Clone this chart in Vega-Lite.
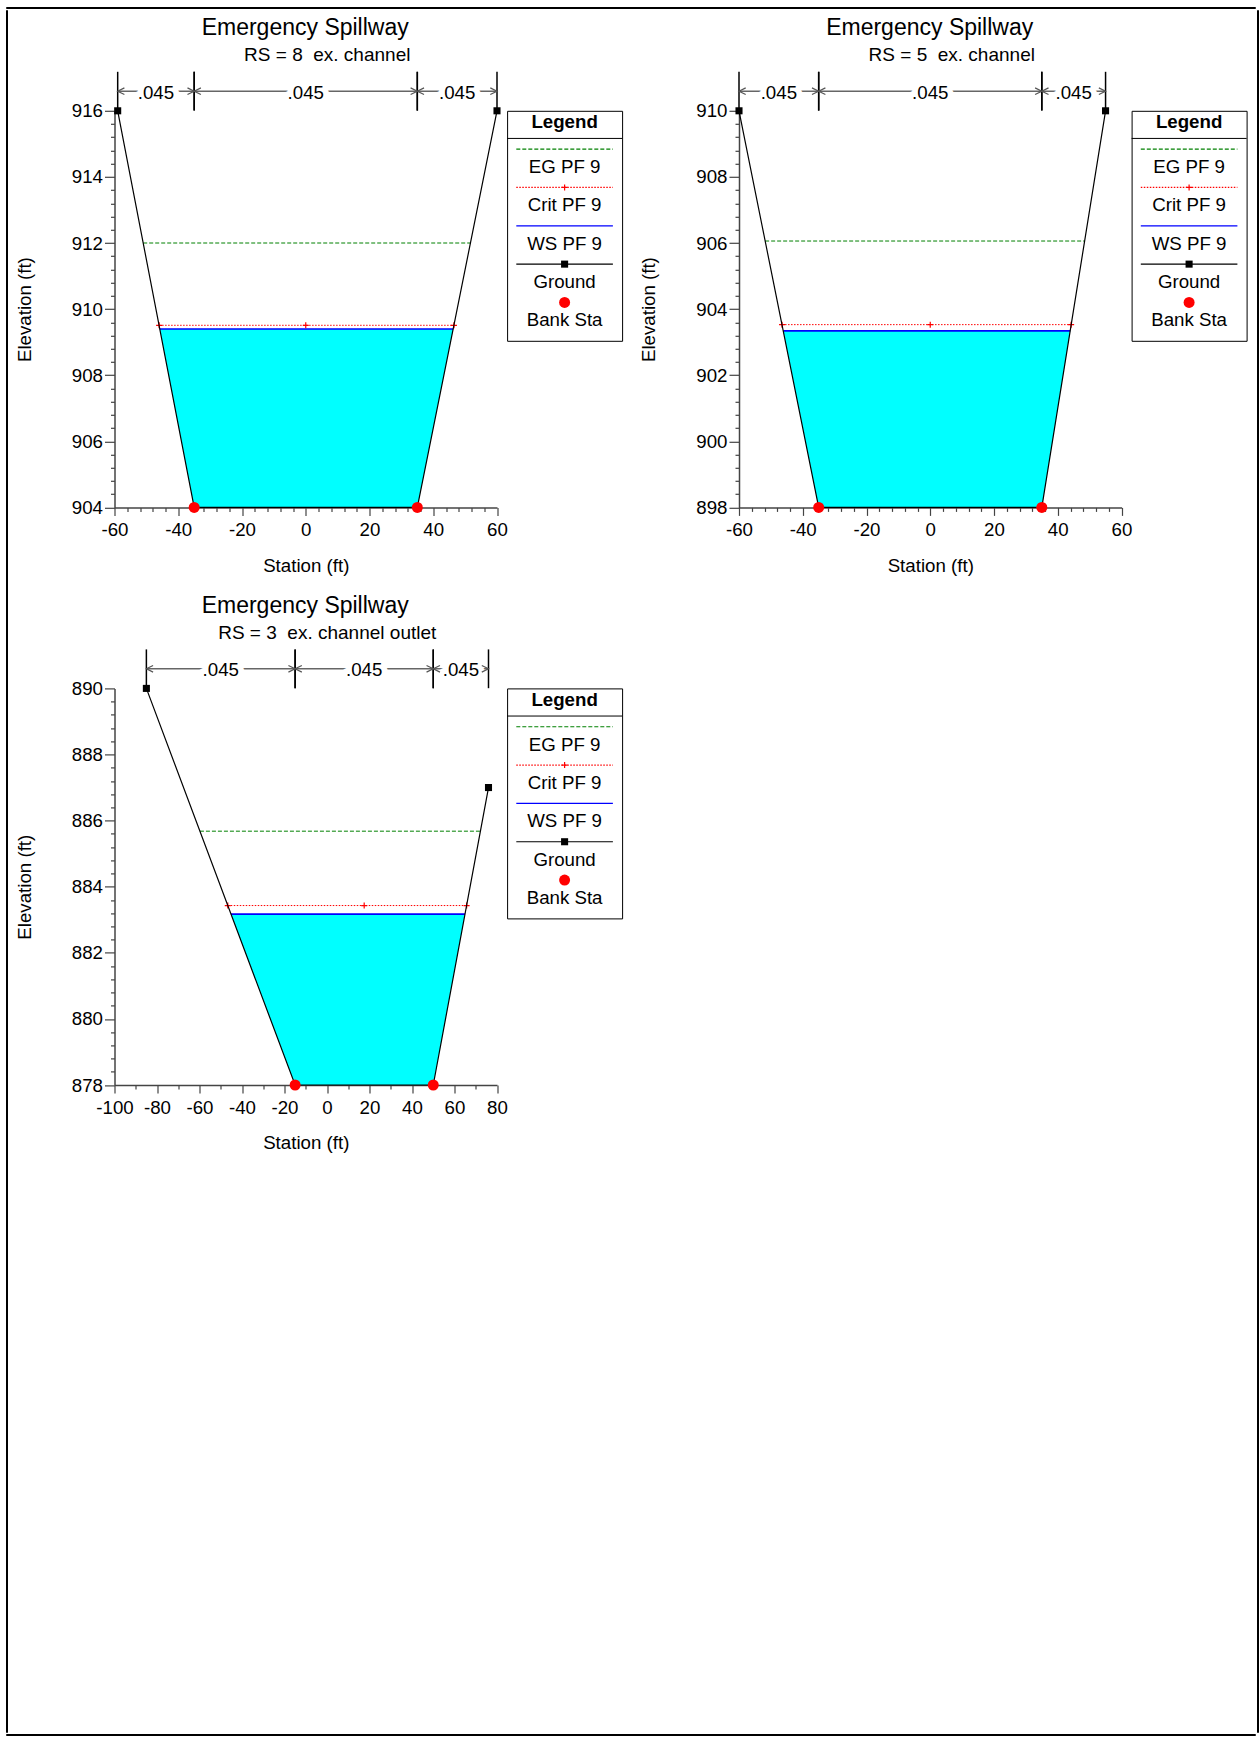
{
  "$schema": "https://vega.github.io/schema/vega-lite/v6.json",
  "usermeta": {"embedOptions": {"actions": false}},
  "padding": {"left": 5, "top": 6, "right": 1, "bottom": 0},
  "background": "white",
  "config": {
    "font": "Liberation Sans",
    "view": {"stroke": null},
    "axis": {"labelFont": "Liberation Sans", "titleFont": "Liberation Sans", "labelFontSize": 18.7, "titleFontSize": 18.7, "titleFontWeight": "normal", "labelColor": "#000", "titleColor": "#000", "domainColor": "#444", "tickColor": "#444", "grid": false, "labelFlush": false, "labelOverlap": false, "labelBound": false, "domainWidth": 1.5, "tickWidth": 1.2},
    "title": {"font": "Liberation Sans", "fontWeight": "normal", "color": "#000"},
    "text": {"font": "Liberation Sans", "fontSize": 18.7, "color": "#000"}
  },
  "datasets": {
    "ground": [
      {"p": 1, "sta": -59, "elev": 916}, {"p": 1, "sta": -35, "elev": 904}, {"p": 1, "sta": 35, "elev": 904}, {"p": 1, "sta": 60, "elev": 916},
      {"p": 2, "sta": -60, "elev": 910}, {"p": 2, "sta": -35, "elev": 898}, {"p": 2, "sta": 35, "elev": 898}, {"p": 2, "sta": 55, "elev": 910},
      {"p": 3, "sta": -85, "elev": 890}, {"p": 3, "sta": -15, "elev": 878}, {"p": 3, "sta": 50, "elev": 878}, {"p": 3, "sta": 76, "elev": 887}
    ],
    "water": [
      {"p": 1, "sta": -45.8, "elev": 909.4, "ws": 909.4}, {"p": 1, "sta": -35, "elev": 904, "ws": 909.4}, {"p": 1, "sta": 35, "elev": 904, "ws": 909.4}, {"p": 1, "sta": 46.25, "elev": 909.4, "ws": 909.4},
      {"p": 2, "sta": -46.1, "elev": 903.34, "ws": 903.34}, {"p": 2, "sta": -35, "elev": 898, "ws": 903.34}, {"p": 2, "sta": 35, "elev": 898, "ws": 903.34}, {"p": 2, "sta": 43.9, "elev": 903.34, "ws": 903.34},
      {"p": 3, "sta": -45.2, "elev": 883.17, "ws": 883.17}, {"p": 3, "sta": -15, "elev": 878, "ws": 883.17}, {"p": 3, "sta": 50, "elev": 878, "ws": 883.17}, {"p": 3, "sta": 64.9, "elev": 883.17, "ws": 883.17}
    ],
    "ws": [
      {"p": 1, "sta": -45.8, "sta2": 46.25, "elev": 909.4},
      {"p": 2, "sta": -46.1, "sta2": 43.9, "elev": 903.34},
      {"p": 3, "sta": -45.2, "sta2": 64.9, "elev": 883.17}
    ],
    "crit": [
      {"p": 1, "sta": -46.0, "sta2": 46.5, "elev": 909.51},
      {"p": 2, "sta": -46.5, "sta2": 44.2, "elev": 903.53},
      {"p": 3, "sta": -46.7, "sta2": 65.7, "elev": 883.43}
    ],
    "critpts": [
      {"p": 1, "sta": -46.0, "elev": 909.51}, {"p": 1, "sta": 0, "elev": 909.51}, {"p": 1, "sta": 46.5, "elev": 909.51},
      {"p": 2, "sta": -46.5, "elev": 903.53}, {"p": 2, "sta": 0, "elev": 903.53}, {"p": 2, "sta": 44.2, "elev": 903.53},
      {"p": 3, "sta": -46.7, "elev": 883.43}, {"p": 3, "sta": 17.5, "elev": 883.43}, {"p": 3, "sta": 65.7, "elev": 883.43}
    ],
    "eg": [
      {"p": 1, "sta": -51.0, "sta2": 51.67, "elev": 912.0},
      {"p": 2, "sta": -51.8, "sta2": 48.4, "elev": 906.06},
      {"p": 3, "sta": -59.8, "sta2": 72.2, "elev": 885.68}
    ],
    "banks": [
      {"p": 1, "sta": -35, "elev": 904}, {"p": 1, "sta": 35, "elev": 904},
      {"p": 2, "sta": -35, "elev": 898}, {"p": 2, "sta": 35, "elev": 898},
      {"p": 3, "sta": -15, "elev": 878}, {"p": 3, "sta": 50, "elev": 878}
    ],
    "nvals": [
      {"p": 1, "seg": 1, "sta": -59, "sta2": -35, "n": ".045"}, {"p": 1, "seg": 2, "sta": -35, "sta2": 35, "n": ".045"}, {"p": 1, "seg": 3, "sta": 35, "sta2": 60, "n": ".045"},
      {"p": 2, "seg": 1, "sta": -60, "sta2": -35, "n": ".045"}, {"p": 2, "seg": 2, "sta": -35, "sta2": 35, "n": ".045"}, {"p": 2, "seg": 3, "sta": 35, "sta2": 55, "n": ".045"},
      {"p": 3, "seg": 1, "sta": -85, "sta2": -15, "n": ".045"}, {"p": 3, "seg": 2, "sta": -15, "sta2": 50, "n": ".045"}, {"p": 3, "seg": 3, "sta": 50, "sta2": 76, "n": ".045"}
    ],
    "legend": [{"item": "EG PF 9"}, {"item": "Crit PF 9"}, {"item": "WS PF 9"}, {"item": "Ground"}, {"item": "Bank Sta"}]
  },
  "spacing": 0,
  "vconcat": [
    {"width": 1249, "height": 1, "data": {"values": []}, "mark": "rect", "view": {"stroke": "#000", "strokeWidth": 1}},
    {
      "spacing": 6.5,
      "hconcat": [
        {"width": 1, "height": 1722, "data": {"values": []}, "mark": "rect", "view": {"stroke": "#000", "strokeWidth": 1}},
        {
          "spacing": 7.5,
          "hconcat": [
            {
              "spacing": 5.8,
              "vconcat": [
                {"width": 1, "height": 1, "data": {"values": []}, "mark": "rect"},
                {
                  "spacing": 19.6,
                  "vconcat": [
                    {
                      "spacing": 15.5,
                      "hconcat": [
                        {
                          "title": {"text": "Emergency Spillway", "fontSize": 23, "anchor": "middle", "dx": -14, "offset": 6.1},
                          "bounds": "flush",
                          "spacing": 0,
                          "vconcat": [
                            {
                              "width": 382.5, "height": 38.8,
                              "title": {"text": "RS = 8\u00a0 ex. channel", "fontSize": 19, "frame": "group", "anchor": "middle", "dx": 21.5, "offset": 5.6},
                              "data": {"name": "nvals"},
                              "transform": [{"filter": "datum.p === 1"}],
                              "encoding": {"x": {"field": "sta", "type": "quantitative", "scale": {"domain": [-60, 60], "nice": false, "zero": false}, "axis": null}},
                              "layer": [
                                {"mark": {"type": "rule", "color": "#666", "strokeWidth": 1.5}, "encoding": {"x2": {"field": "sta2"}}},
                                {"transform": [{"fold": ["sta", "sta2"], "as": ["end", "sta"]}, {"aggregate": [{"op": "mean", "field": "sta", "as": "sta"}], "groupby": ["seg", "n"]}], "mark": {"type": "text", "fontSize": 18.7, "stroke": "#fff", "strokeWidth": 12, "fill": "#fff", "strokeJoin": "round", "dy": 1.5}, "encoding": {"text": {"field": "n"}}},
                                {"transform": [{"fold": ["sta", "sta2"], "as": ["end", "sta"]}], "mark": {"type": "rule", "color": "#000", "strokeWidth": 1.5}},
                                {"mark": {"type": "point", "shape": "M2,-1L0,0L2,1", "filled": false, "stroke": "#555", "strokeWidth": 1.2, "size": 45, "opacity": 1}},
                                {"mark": {"type": "point", "shape": "M-2,-1L0,0L-2,1", "filled": false, "stroke": "#555", "strokeWidth": 1.2, "size": 45, "opacity": 1}, "encoding": {"x": {"field": "sta2", "type": "quantitative", "scale": {"domain": [-60, 60], "nice": false, "zero": false}, "axis": null}}},
                                {"transform": [{"fold": ["sta", "sta2"], "as": ["end", "sta"]}, {"aggregate": [{"op": "mean", "field": "sta", "as": "sta"}], "groupby": ["seg", "n"]}], "mark": {"type": "text", "fontSize": 18.7, "dy": 1.5}, "encoding": {"text": {"field": "n"}}}
                              ]
                            },
                            {
                              "bounds": "flush",
                              "spacing": 9.6,
                              "hconcat": [
                                {
                                  "width": 382.5, "height": 396.6,
                                  "encoding": {
                                    "x": {"field": "sta", "type": "quantitative", "scale": {"domain": [-60, 60], "nice": false, "zero": false},
                                      "axis": {"title": "Station (ft)", "values": [-60,-56,-52,-48,-44,-40,-36,-32,-28,-24,-20,-16,-12,-8,-4,0,4,8,12,16,20,24,28,32,36,40,44,48,52,56,60], "labelExpr": "datum.value % 20 === 0 ? '' + datum.value : ''", "tickSize": {"condition": {"test": "datum.value % 20 === 0", "value": 8}, "value": 4}, "labelPadding": 5, "titlePadding": 17}},
                                    "y": {"field": "elev", "type": "quantitative", "scale": {"domain": [904, 916], "nice": false, "zero": false},
                                      "axis": {"title": "Elevation (ft)", "values": [904,904.4,904.8,905.2,905.6,906,906.4,906.8,907.2,907.6,908,908.4,908.8,909.2,909.6,910,910.4,910.8,911.2,911.6,912,912.4,912.8,913.2,913.6,914,914.4,914.8,915.2,915.6,916], "labelExpr": "datum.value % 2 === 0 ? '' + datum.value : ''", "tickSize": {"condition": {"test": "datum.value % 2 === 0", "value": 10}, "value": 4}, "labelPadding": 2, "titlePadding": 37}}
                                  },
                                  "layer": [
                                    {"data": {"name": "water"}, "transform": [{"filter": "datum.p === 1"}], "mark": {"type": "area", "color": "#00ffff", "opacity": 1}, "encoding": {"y2": {"field": "ws"}}},
                                    {"data": {"name": "eg"}, "transform": [{"filter": "datum.p === 1"}], "mark": {"type": "rule", "color": "#008000", "strokeDash": [4, 2], "strokeWidth": 1}, "encoding": {"x2": {"field": "sta2"}}},
                                    {"data": {"name": "ws"}, "transform": [{"filter": "datum.p === 1"}], "mark": {"type": "rule", "color": "#0000ff", "strokeWidth": 1.6}, "encoding": {"x2": {"field": "sta2"}}},
                                    {"data": {"name": "crit"}, "transform": [{"filter": "datum.p === 1"}], "mark": {"type": "rule", "color": "#ff0000", "strokeDash": [1.5, 1.5], "strokeWidth": 1}, "encoding": {"x2": {"field": "sta2"}}},
                                    {"data": {"name": "critpts"}, "transform": [{"filter": "datum.p === 1"}], "mark": {"type": "point", "shape": "M-1,0H1M0,-1V1", "filled": false, "stroke": "#ff0000", "strokeWidth": 1.2, "size": 36, "opacity": 1}},
                                    {"data": {"name": "ground"}, "transform": [{"filter": "datum.p === 1"}], "mark": {"type": "line", "color": "#000", "strokeWidth": 1.2}},
                                    {"data": {"name": "ground"}, "transform": [{"filter": "datum.p === 1"}], "mark": {"type": "square", "color": "#000", "size": 50, "opacity": 1}},
                                    {"data": {"name": "banks"}, "transform": [{"filter": "datum.p === 1"}], "mark": {"type": "circle", "color": "#ff0000", "size": 121, "opacity": 1}}
                                  ]
                                },
                                {
                                  "width": 115, "height": 230,
                                  "view": {"stroke": "#000", "strokeWidth": 1},
                                  "title": {"text": "Legend", "fontWeight": "bold", "fontSize": 18.7, "frame": "group", "anchor": "middle", "offset": -21},
                                  "data": {"name": "legend"},
                                  "encoding": {"y": {"field": "item", "type": "nominal", "scale": {"type": "point", "domain": ["EG PF 9", "Crit PF 9", "WS PF 9", "Ground", "Bank Sta"], "padding": 1}, "axis": null}},
                                  "layer": [
                                    {"transform": [{"filter": "datum.item === 'EG PF 9'"}], "mark": {"type": "rule", "color": "#000", "strokeWidth": 1, "yOffset": -10.7}, "encoding": {"x": {"datum": 0, "type": "quantitative", "scale": {"domain": [0, 1]}, "axis": null}, "x2": {"datum": 1}}},
                                    {"transform": [{"filter": "datum.item !== 'Bank Sta'"}], "mark": {"type": "rule", "strokeWidth": 1.2}, "encoding": {"x": {"datum": 0.08, "type": "quantitative", "scale": {"domain": [0, 1]}, "axis": null}, "x2": {"datum": 0.92}, "color": {"field": "item", "type": "nominal", "scale": {"domain": ["EG PF 9", "Crit PF 9", "WS PF 9", "Ground"], "range": ["#008000", "#ff0000", "#0000ff", "#000000"]}, "legend": null}, "strokeDash": {"field": "item", "type": "nominal", "scale": {"domain": ["EG PF 9", "Crit PF 9", "WS PF 9", "Ground"], "range": [[4, 2], [1.5, 1.5], [1, 0], [1, 0]]}, "legend": null}}},
                                    {"transform": [{"filter": "datum.item === 'Crit PF 9'"}], "mark": {"type": "point", "shape": "M-1,0H1M0,-1V1", "filled": false, "stroke": "#ff0000", "strokeWidth": 1.2, "size": 36, "opacity": 1}, "encoding": {"x": {"datum": 0.5, "type": "quantitative", "scale": {"domain": [0, 1]}, "axis": null}}},
                                    {"transform": [{"filter": "datum.item === 'Ground'"}], "mark": {"type": "square", "color": "#000", "size": 50, "opacity": 1}, "encoding": {"x": {"datum": 0.5, "type": "quantitative", "scale": {"domain": [0, 1]}, "axis": null}}},
                                    {"transform": [{"filter": "datum.item === 'Bank Sta'"}], "mark": {"type": "circle", "color": "#ff0000", "size": 121, "opacity": 1}, "encoding": {"x": {"datum": 0.5, "type": "quantitative", "scale": {"domain": [0, 1]}, "axis": null}}},
                                    {"mark": {"type": "text", "fontSize": 18.7, "dy": 18}, "encoding": {"x": {"datum": 0.5, "type": "quantitative", "scale": {"domain": [0, 1]}, "axis": null}, "text": {"field": "item"}}}
                                  ]
                                }
                              ]
                            }
                          ]
                        },
                        {
                          "title": {"text": "Emergency Spillway", "fontSize": 23, "anchor": "middle", "dx": -14, "offset": 6.1},
                          "bounds": "flush",
                          "spacing": 0,
                          "vconcat": [
                            {
                              "width": 382.5, "height": 38.8,
                              "title": {"text": "RS = 5\u00a0 ex. channel", "fontSize": 19, "frame": "group", "anchor": "middle", "dx": 21.5, "offset": 5.6},
                              "data": {"name": "nvals"},
                              "transform": [{"filter": "datum.p === 2"}],
                              "encoding": {"x": {"field": "sta", "type": "quantitative", "scale": {"domain": [-60, 60], "nice": false, "zero": false}, "axis": null}},
                              "layer": [
                                {"mark": {"type": "rule", "color": "#666", "strokeWidth": 1.5}, "encoding": {"x2": {"field": "sta2"}}},
                                {"transform": [{"fold": ["sta", "sta2"], "as": ["end", "sta"]}, {"aggregate": [{"op": "mean", "field": "sta", "as": "sta"}], "groupby": ["seg", "n"]}], "mark": {"type": "text", "fontSize": 18.7, "stroke": "#fff", "strokeWidth": 12, "fill": "#fff", "strokeJoin": "round", "dy": 1.5}, "encoding": {"text": {"field": "n"}}},
                                {"transform": [{"fold": ["sta", "sta2"], "as": ["end", "sta"]}], "mark": {"type": "rule", "color": "#000", "strokeWidth": 1.5}},
                                {"mark": {"type": "point", "shape": "M2,-1L0,0L2,1", "filled": false, "stroke": "#555", "strokeWidth": 1.2, "size": 45, "opacity": 1}},
                                {"mark": {"type": "point", "shape": "M-2,-1L0,0L-2,1", "filled": false, "stroke": "#555", "strokeWidth": 1.2, "size": 45, "opacity": 1}, "encoding": {"x": {"field": "sta2", "type": "quantitative", "scale": {"domain": [-60, 60], "nice": false, "zero": false}, "axis": null}}},
                                {"transform": [{"fold": ["sta", "sta2"], "as": ["end", "sta"]}, {"aggregate": [{"op": "mean", "field": "sta", "as": "sta"}], "groupby": ["seg", "n"]}], "mark": {"type": "text", "fontSize": 18.7, "dy": 1.5}, "encoding": {"text": {"field": "n"}}}
                              ]
                            },
                            {
                              "bounds": "flush",
                              "spacing": 9.6,
                              "hconcat": [
                                {
                                  "width": 382.5, "height": 396.6,
                                  "encoding": {
                                    "x": {"field": "sta", "type": "quantitative", "scale": {"domain": [-60, 60], "nice": false, "zero": false},
                                      "axis": {"title": "Station (ft)", "values": [-60,-56,-52,-48,-44,-40,-36,-32,-28,-24,-20,-16,-12,-8,-4,0,4,8,12,16,20,24,28,32,36,40,44,48,52,56,60], "labelExpr": "datum.value % 20 === 0 ? '' + datum.value : ''", "tickSize": {"condition": {"test": "datum.value % 20 === 0", "value": 8}, "value": 4}, "labelPadding": 5, "titlePadding": 17}},
                                    "y": {"field": "elev", "type": "quantitative", "scale": {"domain": [898, 910], "nice": false, "zero": false},
                                      "axis": {"title": "Elevation (ft)", "values": [898,898.4,898.8,899.2,899.6,900,900.4,900.8,901.2,901.6,902,902.4,902.8,903.2,903.6,904,904.4,904.8,905.2,905.6,906,906.4,906.8,907.2,907.6,908,908.4,908.8,909.2,909.6,910], "labelExpr": "datum.value % 2 === 0 ? '' + datum.value : ''", "tickSize": {"condition": {"test": "datum.value % 2 === 0", "value": 10}, "value": 4}, "labelPadding": 2, "titlePadding": 37}}
                                  },
                                  "layer": [
                                    {"data": {"name": "water"}, "transform": [{"filter": "datum.p === 2"}], "mark": {"type": "area", "color": "#00ffff", "opacity": 1}, "encoding": {"y2": {"field": "ws"}}},
                                    {"data": {"name": "eg"}, "transform": [{"filter": "datum.p === 2"}], "mark": {"type": "rule", "color": "#008000", "strokeDash": [4, 2], "strokeWidth": 1}, "encoding": {"x2": {"field": "sta2"}}},
                                    {"data": {"name": "ws"}, "transform": [{"filter": "datum.p === 2"}], "mark": {"type": "rule", "color": "#0000ff", "strokeWidth": 1.6}, "encoding": {"x2": {"field": "sta2"}}},
                                    {"data": {"name": "crit"}, "transform": [{"filter": "datum.p === 2"}], "mark": {"type": "rule", "color": "#ff0000", "strokeDash": [1.5, 1.5], "strokeWidth": 1}, "encoding": {"x2": {"field": "sta2"}}},
                                    {"data": {"name": "critpts"}, "transform": [{"filter": "datum.p === 2"}], "mark": {"type": "point", "shape": "M-1,0H1M0,-1V1", "filled": false, "stroke": "#ff0000", "strokeWidth": 1.2, "size": 36, "opacity": 1}},
                                    {"data": {"name": "ground"}, "transform": [{"filter": "datum.p === 2"}], "mark": {"type": "line", "color": "#000", "strokeWidth": 1.2}},
                                    {"data": {"name": "ground"}, "transform": [{"filter": "datum.p === 2"}], "mark": {"type": "square", "color": "#000", "size": 50, "opacity": 1}},
                                    {"data": {"name": "banks"}, "transform": [{"filter": "datum.p === 2"}], "mark": {"type": "circle", "color": "#ff0000", "size": 121, "opacity": 1}}
                                  ]
                                },
                                {
                                  "width": 115, "height": 230,
                                  "view": {"stroke": "#000", "strokeWidth": 1},
                                  "title": {"text": "Legend", "fontWeight": "bold", "fontSize": 18.7, "frame": "group", "anchor": "middle", "offset": -21},
                                  "data": {"name": "legend"},
                                  "encoding": {"y": {"field": "item", "type": "nominal", "scale": {"type": "point", "domain": ["EG PF 9", "Crit PF 9", "WS PF 9", "Ground", "Bank Sta"], "padding": 1}, "axis": null}},
                                  "layer": [
                                    {"transform": [{"filter": "datum.item === 'EG PF 9'"}], "mark": {"type": "rule", "color": "#000", "strokeWidth": 1, "yOffset": -10.7}, "encoding": {"x": {"datum": 0, "type": "quantitative", "scale": {"domain": [0, 1]}, "axis": null}, "x2": {"datum": 1}}},
                                    {"transform": [{"filter": "datum.item !== 'Bank Sta'"}], "mark": {"type": "rule", "strokeWidth": 1.2}, "encoding": {"x": {"datum": 0.08, "type": "quantitative", "scale": {"domain": [0, 1]}, "axis": null}, "x2": {"datum": 0.92}, "color": {"field": "item", "type": "nominal", "scale": {"domain": ["EG PF 9", "Crit PF 9", "WS PF 9", "Ground"], "range": ["#008000", "#ff0000", "#0000ff", "#000000"]}, "legend": null}, "strokeDash": {"field": "item", "type": "nominal", "scale": {"domain": ["EG PF 9", "Crit PF 9", "WS PF 9", "Ground"], "range": [[4, 2], [1.5, 1.5], [1, 0], [1, 0]]}, "legend": null}}},
                                    {"transform": [{"filter": "datum.item === 'Crit PF 9'"}], "mark": {"type": "point", "shape": "M-1,0H1M0,-1V1", "filled": false, "stroke": "#ff0000", "strokeWidth": 1.2, "size": 36, "opacity": 1}, "encoding": {"x": {"datum": 0.5, "type": "quantitative", "scale": {"domain": [0, 1]}, "axis": null}}},
                                    {"transform": [{"filter": "datum.item === 'Ground'"}], "mark": {"type": "square", "color": "#000", "size": 50, "opacity": 1}, "encoding": {"x": {"datum": 0.5, "type": "quantitative", "scale": {"domain": [0, 1]}, "axis": null}}},
                                    {"transform": [{"filter": "datum.item === 'Bank Sta'"}], "mark": {"type": "circle", "color": "#ff0000", "size": 121, "opacity": 1}, "encoding": {"x": {"datum": 0.5, "type": "quantitative", "scale": {"domain": [0, 1]}, "axis": null}}},
                                    {"mark": {"type": "text", "fontSize": 18.7, "dy": 18}, "encoding": {"x": {"datum": 0.5, "type": "quantitative", "scale": {"domain": [0, 1]}, "axis": null}, "text": {"field": "item"}}}
                                  ]
                                }
                              ]
                            }
                          ]
                        }
                      ]
                    },
                    {
                      "title": {"text": "Emergency Spillway", "fontSize": 23, "anchor": "middle", "dx": -14, "offset": 6.1},
                      "bounds": "flush",
                      "spacing": 0,
                      "vconcat": [
                        {
                          "width": 382.5, "height": 38.8,
                          "title": {"text": "RS = 3\u00a0 ex. channel outlet", "fontSize": 19, "frame": "group", "anchor": "middle", "dx": 21.5, "offset": 5.6},
                          "data": {"name": "nvals"},
                          "transform": [{"filter": "datum.p === 3"}],
                          "encoding": {"x": {"field": "sta", "type": "quantitative", "scale": {"domain": [-100, 80], "nice": false, "zero": false}, "axis": null}},
                          "layer": [
                            {"mark": {"type": "rule", "color": "#666", "strokeWidth": 1.5}, "encoding": {"x2": {"field": "sta2"}}},
                            {"transform": [{"fold": ["sta", "sta2"], "as": ["end", "sta"]}, {"aggregate": [{"op": "mean", "field": "sta", "as": "sta"}], "groupby": ["seg", "n"]}], "mark": {"type": "text", "fontSize": 18.7, "stroke": "#fff", "strokeWidth": 12, "fill": "#fff", "strokeJoin": "round", "dy": 1.5}, "encoding": {"text": {"field": "n"}}},
                            {"transform": [{"fold": ["sta", "sta2"], "as": ["end", "sta"]}], "mark": {"type": "rule", "color": "#000", "strokeWidth": 1.5}},
                            {"mark": {"type": "point", "shape": "M2,-1L0,0L2,1", "filled": false, "stroke": "#555", "strokeWidth": 1.2, "size": 45, "opacity": 1}},
                            {"mark": {"type": "point", "shape": "M-2,-1L0,0L-2,1", "filled": false, "stroke": "#555", "strokeWidth": 1.2, "size": 45, "opacity": 1}, "encoding": {"x": {"field": "sta2", "type": "quantitative", "scale": {"domain": [-100, 80], "nice": false, "zero": false}, "axis": null}}},
                            {"transform": [{"fold": ["sta", "sta2"], "as": ["end", "sta"]}, {"aggregate": [{"op": "mean", "field": "sta", "as": "sta"}], "groupby": ["seg", "n"]}], "mark": {"type": "text", "fontSize": 18.7, "dy": 1.5}, "encoding": {"text": {"field": "n"}}}
                          ]
                        },
                        {
                          "bounds": "flush",
                          "spacing": 9.6,
                          "hconcat": [
                            {
                              "width": 382.5, "height": 396.6,
                              "encoding": {
                                "x": {"field": "sta", "type": "quantitative", "scale": {"domain": [-100, 80], "nice": false, "zero": false},
                                  "axis": {"title": "Station (ft)", "values": [-100,-90,-80,-70,-60,-50,-40,-30,-20,-10,0,10,20,30,40,50,60,70,80], "labelExpr": "datum.value % 20 === 0 ? '' + datum.value : ''", "tickSize": {"condition": {"test": "datum.value % 20 === 0", "value": 8}, "value": 4}, "labelPadding": 5, "titlePadding": 17}},
                                "y": {"field": "elev", "type": "quantitative", "scale": {"domain": [878, 890], "nice": false, "zero": false},
                                  "axis": {"title": "Elevation (ft)", "values": [878,878.4,878.8,879.2,879.6,880,880.4,880.8,881.2,881.6,882,882.4,882.8,883.2,883.6,884,884.4,884.8,885.2,885.6,886,886.4,886.8,887.2,887.6,888,888.4,888.8,889.2,889.6,890], "labelExpr": "datum.value % 2 === 0 ? '' + datum.value : ''", "tickSize": {"condition": {"test": "datum.value % 2 === 0", "value": 10}, "value": 4}, "labelPadding": 2, "titlePadding": 37}}
                              },
                              "layer": [
                                {"data": {"name": "water"}, "transform": [{"filter": "datum.p === 3"}], "mark": {"type": "area", "color": "#00ffff", "opacity": 1}, "encoding": {"y2": {"field": "ws"}}},
                                {"data": {"name": "eg"}, "transform": [{"filter": "datum.p === 3"}], "mark": {"type": "rule", "color": "#008000", "strokeDash": [4, 2], "strokeWidth": 1}, "encoding": {"x2": {"field": "sta2"}}},
                                {"data": {"name": "ws"}, "transform": [{"filter": "datum.p === 3"}], "mark": {"type": "rule", "color": "#0000ff", "strokeWidth": 1.6}, "encoding": {"x2": {"field": "sta2"}}},
                                {"data": {"name": "crit"}, "transform": [{"filter": "datum.p === 3"}], "mark": {"type": "rule", "color": "#ff0000", "strokeDash": [1.5, 1.5], "strokeWidth": 1}, "encoding": {"x2": {"field": "sta2"}}},
                                {"data": {"name": "critpts"}, "transform": [{"filter": "datum.p === 3"}], "mark": {"type": "point", "shape": "M-1,0H1M0,-1V1", "filled": false, "stroke": "#ff0000", "strokeWidth": 1.2, "size": 36, "opacity": 1}},
                                {"data": {"name": "ground"}, "transform": [{"filter": "datum.p === 3"}], "mark": {"type": "line", "color": "#000", "strokeWidth": 1.2}},
                                {"data": {"name": "ground"}, "transform": [{"filter": "datum.p === 3"}], "mark": {"type": "square", "color": "#000", "size": 50, "opacity": 1}},
                                {"data": {"name": "banks"}, "transform": [{"filter": "datum.p === 3"}], "mark": {"type": "circle", "color": "#ff0000", "size": 121, "opacity": 1}}
                              ]
                            },
                            {
                              "width": 115, "height": 230,
                              "view": {"stroke": "#000", "strokeWidth": 1},
                              "title": {"text": "Legend", "fontWeight": "bold", "fontSize": 18.7, "frame": "group", "anchor": "middle", "offset": -21},
                              "data": {"name": "legend"},
                              "encoding": {"y": {"field": "item", "type": "nominal", "scale": {"type": "point", "domain": ["EG PF 9", "Crit PF 9", "WS PF 9", "Ground", "Bank Sta"], "padding": 1}, "axis": null}},
                              "layer": [
                                {"transform": [{"filter": "datum.item === 'EG PF 9'"}], "mark": {"type": "rule", "color": "#000", "strokeWidth": 1, "yOffset": -10.7}, "encoding": {"x": {"datum": 0, "type": "quantitative", "scale": {"domain": [0, 1]}, "axis": null}, "x2": {"datum": 1}}},
                                {"transform": [{"filter": "datum.item !== 'Bank Sta'"}], "mark": {"type": "rule", "strokeWidth": 1.2}, "encoding": {"x": {"datum": 0.08, "type": "quantitative", "scale": {"domain": [0, 1]}, "axis": null}, "x2": {"datum": 0.92}, "color": {"field": "item", "type": "nominal", "scale": {"domain": ["EG PF 9", "Crit PF 9", "WS PF 9", "Ground"], "range": ["#008000", "#ff0000", "#0000ff", "#000000"]}, "legend": null}, "strokeDash": {"field": "item", "type": "nominal", "scale": {"domain": ["EG PF 9", "Crit PF 9", "WS PF 9", "Ground"], "range": [[4, 2], [1.5, 1.5], [1, 0], [1, 0]]}, "legend": null}}},
                                {"transform": [{"filter": "datum.item === 'Crit PF 9'"}], "mark": {"type": "point", "shape": "M-1,0H1M0,-1V1", "filled": false, "stroke": "#ff0000", "strokeWidth": 1.2, "size": 36, "opacity": 1}, "encoding": {"x": {"datum": 0.5, "type": "quantitative", "scale": {"domain": [0, 1]}, "axis": null}}},
                                {"transform": [{"filter": "datum.item === 'Ground'"}], "mark": {"type": "square", "color": "#000", "size": 50, "opacity": 1}, "encoding": {"x": {"datum": 0.5, "type": "quantitative", "scale": {"domain": [0, 1]}, "axis": null}}},
                                {"transform": [{"filter": "datum.item === 'Bank Sta'"}], "mark": {"type": "circle", "color": "#ff0000", "size": 121, "opacity": 1}, "encoding": {"x": {"datum": 0.5, "type": "quantitative", "scale": {"domain": [0, 1]}, "axis": null}}},
                                {"mark": {"type": "text", "fontSize": 18.7, "dy": 18}, "encoding": {"x": {"datum": 0.5, "type": "quantitative", "scale": {"domain": [0, 1]}, "axis": null}, "text": {"field": "item"}}}
                              ]
                            }
                          ]
                        }
                      ]
                    }
                  ]
                }
              ]
            },
            {"width": 1, "height": 1722, "data": {"values": []}, "mark": "rect", "view": {"stroke": "#000", "strokeWidth": 1}}
          ]
        }
      ]
    },
    {"width": 1249, "height": 1, "data": {"values": []}, "mark": "rect", "view": {"stroke": "#000", "strokeWidth": 1}}
  ]
}
